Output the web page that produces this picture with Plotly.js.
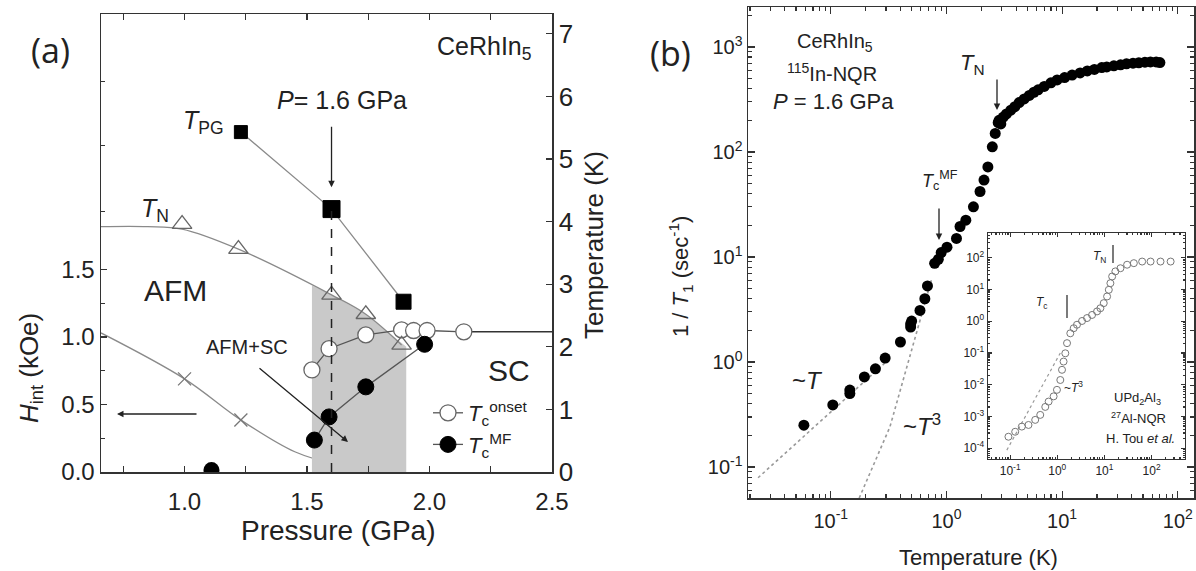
<!DOCTYPE html>
<html><head><meta charset="utf-8">
<script src="https://cdn.plot.ly/plotly-3.0.1.min.js"></script>
<style>html,body{margin:0;padding:0;background:#fff}#chart{width:1196px;height:571px}</style>
</head><body><div id="chart"></div>
<script>
// ---------- Panel (a): CeRhIn5 phase diagram ----------
const pgP = [1.23, 1.60, 1.894];            // T_PG (K)
const pgT = [5.43, 4.20, 2.72];
const tnP = [0.99, 1.22, 1.60, 1.74, 1.886]; // T_N (K)
const tnT = [3.96, 3.56, 2.83, 2.52, 2.03];
const tnGuideP = [0.659, 0.85, 0.99, 1.22, 1.60, 1.74, 1.886];
const tnGuideT = [3.92, 3.92, 3.88, 3.56, 2.83, 2.52, 2.03];
const onP = [1.52, 1.59, 1.74, 1.886, 1.935, 1.99, 2.14];   // Tc onset (K)
const onT = [1.63, 1.97, 2.19, 2.27, 2.26, 2.26, 2.24];
const mfP = [1.11, 1.53, 1.59, 1.74, 1.98];   // Tc MF (K)
const mfT = [0.03, 0.51, 0.88, 1.36, 2.04];
const hP = [1.0, 1.23, 1.6, 1.74];            // H_int (kOe)
const hH = [0.69, 0.385, 0.05, 0.06];
const hGuideP = [0.659, 1.0, 1.23, 1.45, 1.6, 1.74];
const hGuideH = [1.03, 0.69, 0.385, 0.15, 0.07, 0.06];
const shadeP = [1.52, 1.52, 1.6, 1.74, 1.905, 1.905];   // AFM+SC region
const shadeT = [0, 2.98, 2.83, 2.52, 2.0, 0];
const pMax = 2.5;
const pTicks = [1, 1.5, 2, 2.5];
const pTickText = ['1.0', '1.5', '2.0', '2.5'];
const hTicks = [0, 0.5, 1, 1.5];
const hTickText = ['0.0', '0.5', '1.0', '1.5'];
const tTicks = [0, 1, 2, 3, 4, 5, 6, 7];

// ---------- Panel (b): 1/T1 vs T ----------
const bT = [0.0585,0.104,0.146,0.146,0.195,0.243,0.295,0.40,0.49,0.49,0.50,0.59,0.65,0.685,0.79,0.85,0.90,1.01,1.22,1.31,1.47,1.71,1.95,2.11,2.28,2.49,2.64,2.8,2.85,2.95,3.1,3.3,3.6,3.9,4.25,4.7,5.2,5.7,6.2,7.0,8.0,9.05,10.5,12.2,14.3,16.5,19,22,24.3,28,32,36,41,46,52,58,65,70];
const bR = [0.25,0.39,0.54,0.50,0.72,0.86,1.09,1.55,2.3,2.15,2.45,3.1,4.0,5.3,8.7,9.5,11,12.4,15,19.5,22.4,30,42,54,72,112,150,190,200,185,215,230,250,270,295,320,345,370,390,420,455,485,510,540,565,590,610,635,645,660,675,690,700,705,715,720,720,710];
const linT = [0.0235, 0.30];   // ~T guide
const linR = [0.079, 1.0];
const cubT = [0.176, 0.324, 0.74];  // ~T^3 guide
const cubR = [0.0507, 0.24, 6.0];
const bXTicks = [0.1, 1, 10, 100];
const bXText = ['10<sup>-1</sup>', '10<sup>0</sup>', '10<sup>1</sup>', '10<sup>2</sup>'];
const bYTicks = [0.1, 1, 10, 100, 1000];
const bYText = ['10<sup>-1</sup>', '10<sup>0</sup>', '10<sup>1</sup>', '10<sup>2</sup>', '10<sup>3</sup>'];

// ---------- Inset: UPd2Al3 ----------
const iT = [0.092,0.128,0.177,0.245,0.340,0.435,0.556,0.655,0.836,0.984,1.16,1.26,1.36,1.48,1.61,1.89,2.23,2.62,3.35,4.28,5.47,6.98,8.22,9.68,11.4,12.4,13.4,14.6,17.1,21.9,30.3,42.1,63.2,95.3,155,254];
const iR = [2.3e-4,3.3e-4,4.8e-4,5.4e-4,7.8e-4,1.12e-3,2.0e-3,2.95e-3,4.3e-3,6.9e-3,0.0141,0.0295,0.0537,0.0977,0.204,0.417,0.603,0.776,1.02,1.26,1.58,2.04,2.57,3.72,6.03,9.77,15.8,25.7,37.2,46.8,60.3,67.6,75.9,75.9,75.9,75.9];
const iCubT = [0.085, 1.16];
const iCubR = [8.7e-5, 0.1];
const iXTicks = [0.1, 1, 10, 100];
const iXText = ['10<sup>-1</sup>', '10<sup>0</sup>', '10<sup>1</sup>', '10<sup>2</sup>'];
const iYTicks = [1e-4, 1e-3, 1e-2, 0.1, 1, 10, 100];
const iYText = ['10<sup>-4</sup>', '10<sup>-3</sup>', '10<sup>-2</sup>', '10<sup>-1</sup>', '10<sup>0</sup>', '10<sup>1</sup>', '10<sup>2</sup>'];

const W = 1196, H = 571;
const FONT = 'Liberation Sans, Arial, sans-serif';
const INK = '#222';
const GUIDE = '#8a8a8a';

function logMinors(lo, hi){ // minor tick values 2..9 x 10^k inside [10^lo, 10^hi]
  const out = [];
  for (let k = Math.floor(lo); k <= Math.ceil(hi); k++)
    for (let m = 2; m <= 9; m++){ const v = m*Math.pow(10,k); const l = Math.log10(v); if (l > lo && l < hi) out.push(v); }
  return out;
}

const traces = [
  {x: shadeP, y: shadeT, xaxis:'x', yaxis:'y2', mode:'lines', fill:'toself', fillcolor:'#c9c9c9', line:{width:0}, showlegend:false, hoverinfo:'skip'},
  {x: hGuideP, y: hGuideH, xaxis:'x', yaxis:'y', mode:'lines', line:{color:GUIDE, width:1.3, shape:'spline'}, showlegend:false},
  {x: hP, y: hH, xaxis:'x', yaxis:'y', mode:'markers', marker:{symbol:'x-thin', size:13, line:{color:'#777', width:1.3}}, showlegend:false},
  {x: tnGuideP, y: tnGuideT, xaxis:'x', yaxis:'y2', mode:'lines', line:{color:GUIDE, width:1.3, shape:'spline'}, showlegend:false},
  {x: pgP, y: pgT, xaxis:'x', yaxis:'y2', mode:'lines', line:{color:GUIDE, width:1.3}, showlegend:false},
  {x: [onP[onP.length-1], pMax], y: [onT[onT.length-1], onT[onT.length-1]], xaxis:'x', yaxis:'y2', mode:'lines', line:{color:'#333', width:1.6}, showlegend:false},
  {x: onP, y: onT, xaxis:'x', yaxis:'y2', mode:'lines+markers', name:'<i>T</i><sub>c</sub><sup>onset</sup>',
   line:{color:'#555', width:1.3}, marker:{symbol:'circle', size:16, color:'#fff', line:{color:'#666', width:1.3}}},
  {x: mfP.slice(1), y: mfT.slice(1), xaxis:'x', yaxis:'y2', mode:'lines+markers', name:'<i>T</i><sub>c</sub><sup>MF</sup>',
   line:{color:'#555', width:1.3}, marker:{symbol:'circle', size:16, color:'#000', line:{color:'#000', width:1}}},
  {x: mfP.slice(0,1), y: mfT.slice(0,1), xaxis:'x', yaxis:'y2', mode:'markers', marker:{symbol:'circle', size:16, color:'#000'}, showlegend:false},
  {x: tnP, y: tnT, xaxis:'x', yaxis:'y2', mode:'markers', marker:{symbol:'triangle-up-open', size:17, color:'#666', line:{width:1.3}}, showlegend:false},
  {x: pgP, y: pgT, xaxis:'x', yaxis:'y2', mode:'markers', marker:{symbol:'square', size:[13,17,15], color:'#000', opacity:1, line:{color:'#000', width:1}}, showlegend:false},
  // panel b
  {x: linT, y: linR, xaxis:'x2', yaxis:'y3', mode:'lines', line:{color:'#999', width:1.6, dash:'dot'}, showlegend:false},
  {x: cubT, y: cubR, xaxis:'x2', yaxis:'y3', mode:'lines', line:{color:'#999', width:1.6, dash:'dot'}, showlegend:false},
  {x: bT, y: bR, xaxis:'x2', yaxis:'y3', mode:'markers', marker:{symbol:'circle', size:11, color:'#000'}, showlegend:false},
  // inset
  {x: iCubT, y: iCubR, xaxis:'x3', yaxis:'y4', mode:'lines', line:{color:'#999', width:1.2, dash:'dot'}, showlegend:false},
  {x: iT, y: iR, xaxis:'x3', yaxis:'y4', mode:'markers', marker:{symbol:'circle-open', size:7, color:'#777', line:{width:1}}, showlegend:false}
];

function px(x){return x/W;}
function py(y){return 1-y/H;}
function T(text, x, y, size, extra){
  return Object.assign({text:text, xref:'paper', yref:'paper', x:px(x), y:py(y), xanchor:'center', yanchor:'middle',
    showarrow:false, font:{family:FONT, size:size, color:INK}}, extra||{});
}
function ARR(x, y, ax, ay){
  return {text:'', xref:'paper', yref:'paper', x:px(x), y:py(y), ax:ax, ay:ay, showarrow:true, arrowhead:2, arrowsize:1, arrowwidth:1.3, arrowcolor:INK};
}

const annotations = [
  T('(a)', 50, 50, 34, {font:{family:'Open Sans, sans-serif', size:34, color:INK}}),
  T('(b)', 670, 53, 34, {font:{family:'Open Sans, sans-serif', size:34, color:INK}}),
  T('CeRhIn<sub>5</sub>', 484, 48, 25),
  T('<i>P</i>= 1.6 GPa', 342, 100, 25),
  T('<i>T</i><sub>PG</sub>', 203, 122, 25),
  T('<i>T</i><sub>N</sub>', 155, 210, 25),
  T('AFM', 175, 290, 30),
  T('AFM+SC', 247, 347, 20),
  T('SC', 509, 370, 30),
  T('Pressure (GPa)', 338, 530, 28),
  T('<i>H</i><sub>int</sub> (kOe)', 30, 368, 26, {textangle:-90}),
  T('Temperature (K)', 594, 245, 26, {textangle:-90}),
  {text:'', xref:'x', yref:'y2', x:pgP[1], y:pgT[1]+0.35, ax:0, ay:-62, showarrow:true, arrowhead:2, arrowsize:1, arrowwidth:1.3, arrowcolor:INK},
  ARR(348, 442, -90, -75),
  ARR(117, 414, 81, 0),
  // panel b
  T('CeRhIn<sub>5</sub>', 835, 43, 20),
  T('<sup>115</sup>In-NQR', 832, 72, 20),
  T('<i>P</i> = 1.6 GPa', 833, 101, 22),
  T('<i>T</i><sub>N</sub>', 972, 64, 22),
  T('<i>T</i><sub>c</sub><sup>MF</sup>', 940, 180, 18),
  T('~<i>T</i>', 807, 380, 24),
  T('~<i>T</i><sup>3</sup>', 922, 425, 24),
  T('1 / <i>T</i><sub>1</sub> (sec<sup>-1</sup>)', 680, 277, 22, {textangle:-90}),
  T('Temperature (K)', 978, 557, 22),
  ARR(997, 110, 0, -32),
  ARR(939, 240, 0, -33),
  // inset
  T('<i>T</i><sub>N</sub>', 1099, 257, 12),
  T('<i>T</i><sub>c</sub>', 1042, 303, 12),
  T('~<i>T</i><sup>3</sup>', 1073, 387, 12),
  T('UPd<sub>2</sub>Al<sub>3</sub>', 1137, 398, 13),
  T('<sup>27</sup>Al-NQR', 1138, 418, 13),
  T('H. Tou <i>et al.</i>', 1140, 438, 13)
];

const shapes = [
  {type:'line', xref:'x', yref:'y2', x0:pgP[1], x1:pgP[1], y0:0, y1:pgT[1], line:{color:INK, width:1.5, dash:'dash'}},
  {type:'line', xref:'paper', yref:'paper', x0:px(1113), x1:px(1113), y0:py(245), y1:py(263), line:{color:INK, width:1.2}},
  {type:'line', xref:'paper', yref:'paper', x0:px(1067), x1:px(1067), y0:py(295), y1:py(318), line:{color:INK, width:1.2}}
];

const axBase = {showgrid:false, zeroline:false, showline:true, linecolor:'#333', linewidth:1.5,
  ticks:'inside', tickcolor:'#333', tickwidth:1.2, tickfont:{family:FONT, color:INK}};

const bXr = [-1.716, 2.14], bYr = [-1.295, 3.38], iXr = [-1.47, 2.71], iYr = [-4.34, 2.78];

const layout = {
  width:W, height:H, margin:{l:0,r:0,t:0,b:0}, paper_bgcolor:'#fff', plot_bgcolor:'rgba(0,0,0,0)',
  font:{family:FONT, color:INK},
  showlegend:true,
  legend:{x:px(428), y:py(392), xanchor:'left', yanchor:'top', bgcolor:'rgba(0,0,0,0)', font:{family:FONT, size:22, color:INK}, tracegroupgap:0},
  xaxis: Object.assign({}, axBase, {domain:[px(101), px(552)], range:[0.659, pMax], anchor:'y',
    tickmode:'array', tickvals:pTicks, ticktext:pTickText, ticklen:6, mirror:'allticks',
    minor:{tickmode:'array', tickvals:[0.75,1.25,1.75,2.25], ticks:'inside', ticklen:5, tickcolor:'#333'},
    tickfont:{family:FONT, size:24, color:INK}, ticklabelstandoff:8}),
  yaxis: Object.assign({}, axBase, {domain:[py(472), py(14)], range:[0, 458/135], anchor:'x', side:'left',
    tickmode:'array', tickvals:hTicks, ticktext:hTickText, ticklen:6,
    minor:{tickmode:'array', tickvals:[0.25,0.75,1.25,1.93,2.42,2.89], ticks:'inside', ticklen:4, tickcolor:'#333'},
    tickfont:{family:FONT, size:24, color:INK}}),
  yaxis2: Object.assign({}, axBase, {overlaying:'y', side:'right', anchor:'x', range:[0, 458/62.6],
    tickmode:'array', tickvals:tTicks, ticklen:6, tickfont:{family:FONT, size:26, color:INK}}),
  xaxis2: Object.assign({}, axBase, {domain:[px(748), px(1194)], type:'log', range:bXr, anchor:'y3',
    tickmode:'array', tickvals:bXTicks, ticktext:bXText, ticklen:7, mirror:'allticks',
    minor:{tickmode:'array', tickvals:logMinors(bXr[0], bXr[1]), ticks:'inside', ticklen:4, tickcolor:'#333'},
    tickfont:{family:FONT, size:20, color:INK}, ticklabelstandoff:4}),
  yaxis3: Object.assign({}, axBase, {domain:[py(498), py(7)], type:'log', range:bYr, anchor:'x2',
    tickmode:'array', tickvals:bYTicks, ticktext:bYText, ticklen:7, mirror:'allticks',
    minor:{tickmode:'array', tickvals:logMinors(bYr[0], bYr[1]), ticks:'inside', ticklen:4, tickcolor:'#333'},
    tickfont:{family:FONT, size:20, color:INK}}),
  xaxis3: Object.assign({}, axBase, {domain:[px(988), px(1185)], type:'log', range:iXr, anchor:'y4',
    tickmode:'array', tickvals:iXTicks, ticktext:iXText, ticklen:4, mirror:'allticks', linewidth:1.4,
    minor:{tickmode:'array', tickvals:logMinors(iXr[0], iXr[1]), ticks:'inside', ticklen:2, tickcolor:'#333'},
    tickfont:{family:FONT, size:12, color:INK}}),
  yaxis4: Object.assign({}, axBase, {domain:[py(459), py(233)], type:'log', range:iYr, anchor:'x3',
    tickmode:'array', tickvals:iYTicks, ticktext:iYText, ticklen:4, mirror:'allticks', linewidth:1.4,
    minor:{tickmode:'array', tickvals:logMinors(iYr[0], iYr[1]), ticks:'inside', ticklen:2, tickcolor:'#333'},
    tickfont:{family:FONT, size:12, color:INK}}),
  annotations: annotations,
  shapes: shapes
};

Plotly.newPlot('chart', traces, layout, {displayModeBar:false, staticPlot:true});
</script>
</body></html>
